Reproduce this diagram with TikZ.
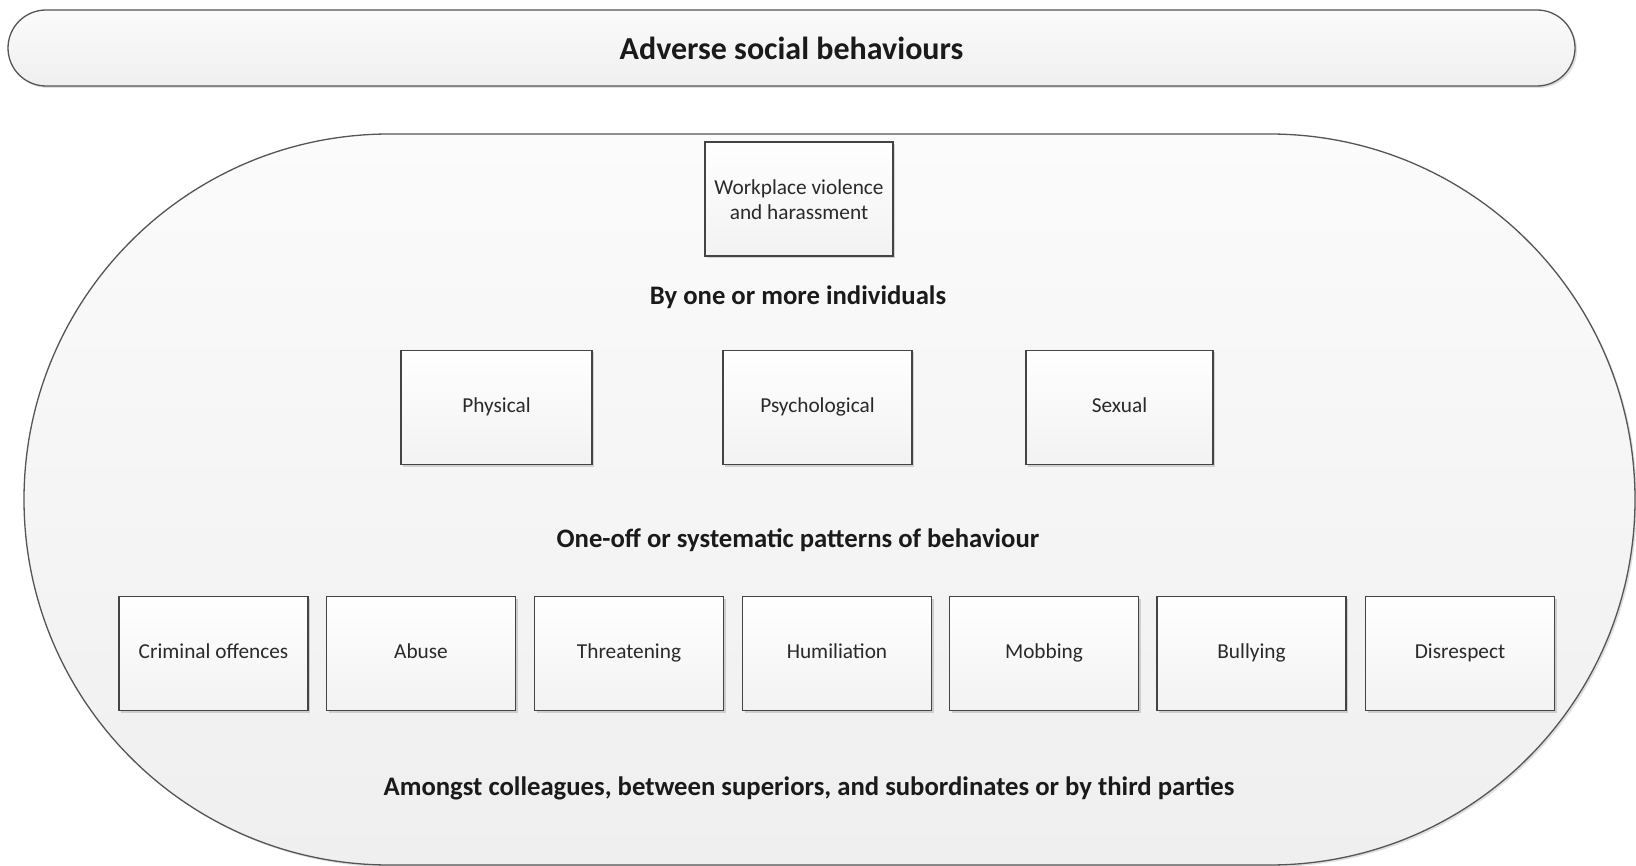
\documentclass[tikz,border=0pt]{standalone}
\usepackage{fontspec}
\setmainfont{Carlito}
\usetikzlibrary{shapes.misc,shadows}
\definecolor{edge}{HTML}{555555}
\definecolor{boxedge}{HTML}{444444}
\definecolor{topfill}{HTML}{FBFBFB}
\definecolor{botfill}{HTML}{EFEFEF}
\definecolor{txt}{HTML}{1A1A1A}
\definecolor{boxtxt}{HTML}{2A2A2A}
\begin{document}
\begin{tikzpicture}[x=1pt,y=-1pt,
  pill/.style={rounded rectangle, draw=edge, line width=1.3pt, top color=topfill, bottom color=botfill,
    drop shadow={shadow xshift=2pt, shadow yshift=-2pt, fill=black, opacity=0.12}, inner sep=0pt},
  cat/.style={rectangle, draw=boxedge, line width=1.3pt, top color=white, bottom color=botfill!80!white,
    minimum width=189pt, minimum height=114pt, inner sep=2pt, align=center, text=boxtxt,
    font=\fontsize{21.3}{25}\selectfont, execute at begin node=\strut,
    drop shadow={shadow xshift=2pt, shadow yshift=-2pt, fill=black, opacity=0.15}},
  lbl/.style={font=\fontsize{26.7}{31}\selectfont\bfseries, text=txt, inner sep=0pt}
]
\useasboundingbox (0,0) rectangle (1636,866);
\fill[white] (0,0) rectangle (1636,866);

\node[pill, minimum width=1567pt, minimum height=76pt, font=\fontsize{32}{36}\selectfont\bfseries, text=txt]
  (title) at (791.5,48) {Adverse social behaviours};

\node[pill, minimum width=1611pt, minimum height=731pt] (area) at (829.5,499.5) {};

\node[cat, minimum width=188pt] (wvh) at (799,199) {\rule{0pt}{24pt}Workplace violence\\and harassment};

\node[lbl] (ind) at (798,297) {By one or more individuals};

\node[cat, minimum width=191pt] (phys) at (496.5,407.5) {Physical};
\node[cat] (psych) at (817.5,407.5) {Psychological};
\node[cat, minimum width=187pt] (sex) at (1119.5,407.5) {Sexual};

\node[lbl] (pat) at (798,540) {One-off or systematic patterns of behaviour};

\node[cat] (crim) at (213.5,653.5) {Criminal offences};
\node[cat] (abuse) at (421,653.5) {Abuse};
\node[cat] (threat) at (629,653.5) {Threatening};
\node[cat] (humil) at (837,653.5) {Humiliation};
\node[cat] (mob) at (1044,653.5) {Mobbing};
\node[cat] (bully) at (1251.5,653.5) {Bullying};
\node[cat] (disr) at (1460,653.5) {Disrespect};

\node[lbl] (among) at (809,788) {Amongst colleagues, between superiors, and subordinates or by third parties};
\end{tikzpicture}
\end{document}
